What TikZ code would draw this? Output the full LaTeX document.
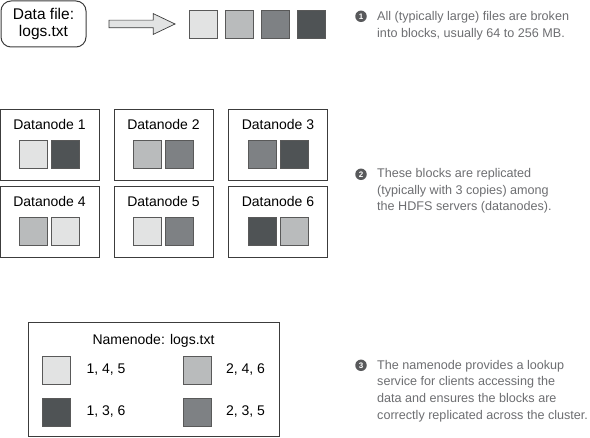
\documentclass[tikz,border=0pt]{standalone}
\usepackage{fontspec}
\setmainfont{Liberation Sans}
\usetikzlibrary{positioning}
\usetikzlibrary{shapes.arrows}

\definecolor{blkA}{HTML}{E2E3E3}
\definecolor{blkB}{HTML}{B9BBBC}
\definecolor{blkC}{HTML}{7E8184}
\definecolor{blkD}{HTML}{4F5355}
\definecolor{notegray}{HTML}{6D6E71}
\definecolor{bulletgray}{HTML}{58595B}
\definecolor{edgegray}{HTML}{3C3C3C}

\begin{document}
\begin{tikzpicture}[x=1pt,y=-1pt]
    \useasboundingbox (0,0) rectangle (590,438);

    \tikzstyle{block} = [draw=edgegray!85, line width=0.7pt, minimum size=28pt, inner sep=0pt]
    \tikzstyle{server} = [draw=edgegray, line width=1pt, minimum width=99pt, minimum height=71pt, inner sep=0pt]
    \tikzstyle{title} = [font=\fontsize{14}{16}\selectfont, inner sep=0pt, anchor=base]
    \tikzstyle{bullet} = [circle, fill=bulletgray, text=white, inner sep=0pt, minimum size=11.5pt, font=\bfseries\fontsize{8}{8}\selectfont]
    \tikzstyle{note} = [anchor=north west, align=left, text=notegray, inner sep=0pt, font=\fontsize{12.6}{16.7}\selectfont]

    % file split into blocks
    \node (file) at (43.5,24) [draw=edgegray, line width=1pt, rounded corners=10pt, minimum width=85pt, minimum height=46pt, align=center, font=\fontsize{15.5}{17}\selectfont] {Data file:\\logs.txt};
    \node (split) at (138,24) [single arrow, draw=edgegray, fill=blkA, line width=0.7pt, minimum height=66pt, inner sep=3.5pt, single arrow head extend=6.5pt, single arrow tip angle=51] {};
    \node (blk1) at (203,24) [block, fill=blkA] {};
    \node (blk2) at (239,24) [block, fill=blkB] {};
    \node (blk3) at (275,24) [block, fill=blkC] {};
    \node (blk4) at (311,24) [block, fill=blkD] {};

    % datanodes
    \node (dn1) at (49.5,145) [server] {};
    \node (dn1t) at (49.5,130) [title] {Datanode 1};
    \node (dn1a) at (33.5,154) [block, fill=blkA] {};
    \node (dn1b) at (65.5,154) [block, fill=blkD] {};

    \node (dn2) at (163.5,145) [server] {};
    \node (dn2t) at (163.5,130) [title] {Datanode 2};
    \node (dn2a) at (147.5,154) [block, fill=blkB] {};
    \node (dn2b) at (179.5,154) [block, fill=blkC] {};

    \node (dn3) at (278,145) [server] {};
    \node (dn3t) at (278,130) [title] {Datanode 3};
    \node (dn3a) at (262,154) [block, fill=blkC] {};
    \node (dn3b) at (294,154) [block, fill=blkD] {};

    \node (dn4) at (49.5,222) [server] {};
    \node (dn4t) at (49.5,206.7) [title] {Datanode 4};
    \node (dn4a) at (33.5,231.5) [block, fill=blkB] {};
    \node (dn4b) at (65.5,231.5) [block, fill=blkA] {};

    \node (dn5) at (163.5,222) [server] {};
    \node (dn5t) at (163.5,206.7) [title] {Datanode 5};
    \node (dn5a) at (147.5,231.5) [block, fill=blkA] {};
    \node (dn5b) at (179.5,231.5) [block, fill=blkC] {};

    \node (dn6) at (278,222) [server] {};
    \node (dn6t) at (278,206.7) [title] {Datanode 6};
    \node (dn6a) at (262,231.5) [block, fill=blkD] {};
    \node (dn6b) at (294,231.5) [block, fill=blkB] {};

    % namenode
    \node (nn) at (153.5,380) [draw=edgegray, line width=1pt, minimum width=251pt, minimum height=114pt] {};
    \node (nnt) at (153.5,345) [title] {Namenode: logs.txt};
    \node (nn1) at (56,370) [block, fill=blkA] {};
    \node (nn2) at (197.5,370) [block, fill=blkB] {};
    \node (nn3) at (56,412) [block, fill=blkD] {};
    \node (nn4) at (197.5,412) [block, fill=blkC] {};
    \node (nn1l) [right=16pt of nn1, inner sep=0pt, font=\fontsize{14}{16}\selectfont] {1, 4, 5};
    \node (nn2l) [right=14pt of nn2, inner sep=0pt, font=\fontsize{14}{16}\selectfont] {2, 4, 6};
    \node (nn3l) [right=16pt of nn3, inner sep=0pt, font=\fontsize{14}{16}\selectfont] {1, 3, 6};
    \node (nn4l) [right=14pt of nn4, inner sep=0pt, font=\fontsize{14}{16}\selectfont] {2, 3, 5};

    % notes
    \node (b1) at (361,16.3) [bullet] {1};
    \node (n1) at (377,11.4) [note] {All (typically large) files are broken\\into blocks, usually 64 to 256 MB.};
    \node (b2) at (361,174.3) [bullet] {2};
    \node (n2) at (377,168) [note] {These blocks are replicated\\(typically with 3 copies) among\\the HDFS servers (datanodes).};
    \node (b3) at (361,365.3) [bullet] {3};
    \node (n3) at (377,359.7) [note] {The namenode provides a lookup\\service for clients accessing the\\data and ensures the blocks are\\correctly replicated across the cluster.};
\end{tikzpicture}
\end{document}
